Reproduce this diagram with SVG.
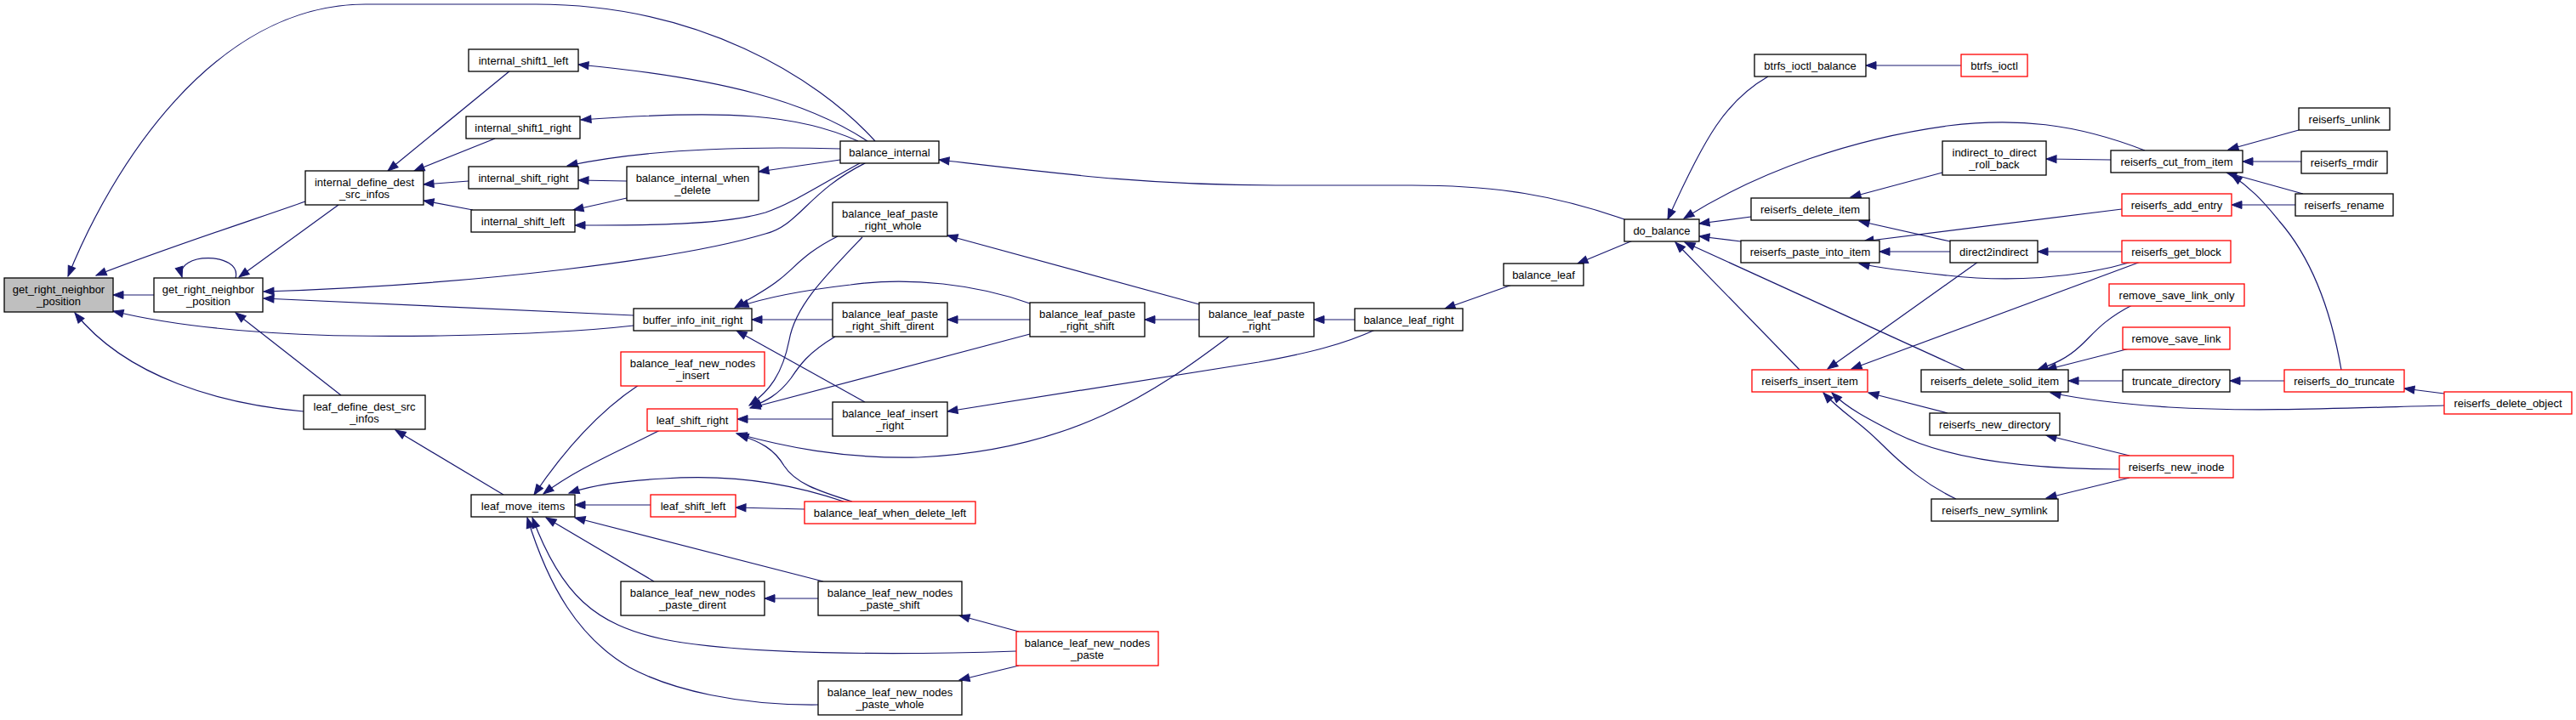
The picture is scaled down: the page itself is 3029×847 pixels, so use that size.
<svg xmlns="http://www.w3.org/2000/svg" width="3029" height="847" viewBox="0 0 3029 847">
<style>
.n rect{fill:#fff;stroke:#000;stroke-width:1.3}
.r rect{stroke:#f00}
.m rect{fill:#bfbfbf}
text{font-family:"Liberation Sans",Arial,sans-serif;font-size:13px;text-anchor:middle;fill:#000}
#edges path{fill:none;stroke:#191970;stroke-width:1.2;marker-end:url(#a)}
</style>
<defs>
<marker id="a" markerWidth="12" markerHeight="9" refX="12" refY="4.5" orient="auto" markerUnits="userSpaceOnUse" overflow="visible"><path d="M0,0 L12,4.5 L0,9 z" fill="#191970" stroke="#191970" stroke-width="1"/></marker>
</defs>
<rect width="3029" height="847" fill="#fff"/>
<g id="edges">
<path d="M359,237 C300,258 200,290 113,324"/>
<path d="M181,347 L133,347"/>
<path d="M745,383 C640,395 420,400 300,390 C230,385 170,375 133,366"/>
<path d="M1029,166 C960,90 820,5 630,5 L430,5 C250,5 130,200 80,325"/>
<path d="M357,484 C260,475 150,445 88,368"/>
<path d="M277,327 C285,296 205,296 214,326"/>
<path d="M398,241 L281,326"/>
<path d="M1019,191 C950,225 940,265 900,275 C800,305 560,335 310,343"/>
<path d="M745,371 L310,351"/>
<path d="M401,465 L277,368"/>
<path d="M600,83 L456,201"/>
<path d="M582,163 L487,201"/>
<path d="M551,213 L498,217"/>
<path d="M556,247 L498,236"/>
<path d="M1020,166 C950,120 850,92 680,76"/>
<path d="M1009,166 C940,135 860,128 683,141"/>
<path d="M988,175 C880,172 760,175 667,195"/>
<path d="M737,213 L680,212"/>
<path d="M737,233 L674,247"/>
<path d="M1011,192 C960,220 930,240 900,250 C850,265 760,265 676,265"/>
<path d="M988,188 L892,202"/>
<path d="M1910,258 C1830,230 1760,218 1660,218 L1500,218 C1350,218 1250,205 1104,188"/>
<path d="M985,278 C945,298 935,315 915,330 C900,342 880,352 864,362"/>
<path d="M1211,357 C1150,335 1070,325 1000,335 C940,342 900,350 868,361"/>
<path d="M979,376 L884,376"/>
<path d="M1017,473 L866,389"/>
<path d="M1014,279 C970,325 935,360 928,400 C920,440 905,460 881,477"/>
<path d="M982,396 C950,415 940,430 930,445 C915,465 900,472 883,479"/>
<path d="M1211,393 L882,480"/>
<path d="M979,493 L867,493"/>
<path d="M1445,396 C1360,460 1260,530 1080,538 C990,540 920,525 866,510"/>
<path d="M1002,590 C960,577 935,568 922,548 C910,528 895,520 868,511"/>
<path d="M1617,388 C1580,405 1540,415 1480,426 L1114,484"/>
<path d="M1410,358 L1114,277"/>
<path d="M1211,376 L1114,376"/>
<path d="M1410,376 L1346,376"/>
<path d="M1593,376 L1545,376"/>
<path d="M1778,335 L1699,363"/>
<path d="M1920,283 L1855,310"/>
<path d="M592,582 L465,506"/>
<path d="M751,453 C710,480 670,520 628,582"/>
<path d="M776,506 C730,530 680,550 639,581"/>
<path d="M992,590 C920,565 850,558 780,563 C730,566 700,570 669,580"/>
<path d="M765,594 L676,594"/>
<path d="M968,684 L676,609"/>
<path d="M769,684 L642,609"/>
<path d="M1195,766 C1050,771 870,770 780,752 C700,735 660,700 626,609"/>
<path d="M962,829 C870,830 790,812 740,785 C680,750 645,690 620,609"/>
<path d="M962,704 L899,704"/>
<path d="M1198,743 L1128,724"/>
<path d="M1198,783 L1128,800"/>
<path d="M946,599 L865,597"/>
<path d="M2079,90 C2030,118 2005,160 1961,258"/>
<path d="M2522,177 C2440,145 2370,138 2290,148 C2180,163 2070,200 1980,257"/>
<path d="M2059,255 L1998,263"/>
<path d="M2047,284 L1998,278"/>
<path d="M2116,435 L1970,285"/>
<path d="M2310,435 L1981,285"/>
<path d="M2306,77 L2194,77"/>
<path d="M2284,203 L2176,232"/>
<path d="M2293,284 L2186,260"/>
<path d="M2495,246 L2191,284"/>
<path d="M2293,296 L2210,296"/>
<path d="M2507,308 C2440,328 2360,332 2290,324 C2250,320 2215,316 2186,310"/>
<path d="M2495,296 L2396,296"/>
<path d="M2326,308 L2149,434"/>
<path d="M2517,308 L2177,434"/>
<path d="M2290,486 L2197,462"/>
<path d="M2492,552 C2380,552 2290,540 2230,510 C2195,492 2172,480 2154,462"/>
<path d="M2300,587 C2265,570 2240,550 2210,520 C2185,495 2165,485 2144,462"/>
<path d="M2507,359 C2470,378 2460,395 2445,408 C2430,422 2415,428 2396,435"/>
<path d="M2504,410 L2406,435"/>
<path d="M2496,448 L2432,448"/>
<path d="M2874,477 C2760,480 2650,485 2550,479 C2490,475 2450,470 2411,462"/>
<path d="M2686,448 L2622,448"/>
<path d="M2874,463 L2827,457"/>
<path d="M2753,435 C2740,360 2715,300 2680,260 C2660,235 2645,220 2624,206"/>
<path d="M2504,536 L2406,512"/>
<path d="M2504,562 L2406,586"/>
<path d="M2703,153 L2620,176"/>
<path d="M2706,190 L2637,190"/>
<path d="M2708,228 L2618,203"/>
<path d="M2482,188 L2406,187"/>
<path d="M2699,241 L2624,241"/>
</g>
<g id="n_main" class="n m"><rect x="5" y="327" width="128" height="40"/><text x="69" y="344.5">get_right_neighbor</text><text x="69" y="358.5">_position</text></g>
<g id="n_grnp2" class="n"><rect x="181" y="327" width="128" height="40"/><text x="245" y="344.5">get_right_neighbor</text><text x="245" y="358.5">_position</text></g>
<g id="n_idds" class="n"><rect x="359" y="201" width="139" height="40"/><text x="428.5" y="218.5">internal_define_dest</text><text x="428.5" y="232.5">_src_infos</text></g>
<g id="n_is1l" class="n"><rect x="551" y="58" width="129" height="26"/><text x="615.5" y="75.5">internal_shift1_left</text></g>
<g id="n_is1r" class="n"><rect x="548" y="137" width="134" height="26"/><text x="615" y="154.5">internal_shift1_right</text></g>
<g id="n_isr" class="n"><rect x="551" y="196" width="129" height="26"/><text x="615.5" y="213.5">internal_shift_right</text></g>
<g id="n_isl" class="n"><rect x="554" y="247" width="122" height="26"/><text x="615" y="264.5">internal_shift_left</text></g>
<g id="n_ldds" class="n"><rect x="357" y="465" width="143" height="40"/><text x="428.5" y="482.5">leaf_define_dest_src</text><text x="428.5" y="496.5">_infos</text></g>
<g id="n_lmi" class="n"><rect x="554" y="582" width="122" height="26"/><text x="615" y="599.5">leaf_move_items</text></g>
<g id="n_biwd" class="n"><rect x="737" y="196" width="155" height="40"/><text x="814.5" y="213.5">balance_internal_when</text><text x="814.5" y="227.5">_delete</text></g>
<g id="n_biir" class="n"><rect x="745" y="363" width="139" height="26"/><text x="814.5" y="380.5">buffer_info_init_right</text></g>
<g id="n_blnni" class="n r"><rect x="730" y="414" width="169" height="40"/><text x="814.5" y="431.5">balance_leaf_new_nodes</text><text x="814.5" y="445.5">_insert</text></g>
<g id="n_lsr" class="n r"><rect x="761" y="481" width="106" height="26"/><text x="814" y="498.5">leaf_shift_right</text></g>
<g id="n_lsl" class="n r"><rect x="765" y="582" width="100" height="26"/><text x="815" y="599.5">leaf_shift_left</text></g>
<g id="n_blnnpd" class="n"><rect x="730" y="684" width="169" height="40"/><text x="814.5" y="701.5">balance_leaf_new_nodes</text><text x="814.5" y="715.5">_paste_dirent</text></g>
<g id="n_bi" class="n"><rect x="988" y="166" width="116" height="26"/><text x="1046" y="183.5">balance_internal</text></g>
<g id="n_blprw" class="n"><rect x="979" y="238" width="135" height="40"/><text x="1046.5" y="255.5">balance_leaf_paste</text><text x="1046.5" y="269.5">_right_whole</text></g>
<g id="n_blprsd" class="n"><rect x="979" y="356" width="135" height="40"/><text x="1046.5" y="373.5">balance_leaf_paste</text><text x="1046.5" y="387.5">_right_shift_dirent</text></g>
<g id="n_blir" class="n"><rect x="979" y="473" width="135" height="40"/><text x="1046.5" y="490.5">balance_leaf_insert</text><text x="1046.5" y="504.5">_right</text></g>
<g id="n_blwdl" class="n r"><rect x="946" y="590" width="201" height="26"/><text x="1046.5" y="607.5">balance_leaf_when_delete_left</text></g>
<g id="n_blnnps" class="n"><rect x="962" y="684" width="169" height="40"/><text x="1046.5" y="701.5">balance_leaf_new_nodes</text><text x="1046.5" y="715.5">_paste_shift</text></g>
<g id="n_blnnpw" class="n"><rect x="962" y="801" width="169" height="40"/><text x="1046.5" y="818.5">balance_leaf_new_nodes</text><text x="1046.5" y="832.5">_paste_whole</text></g>
<g id="n_blnnp" class="n r"><rect x="1195" y="743" width="167" height="40"/><text x="1278.5" y="760.5">balance_leaf_new_nodes</text><text x="1278.5" y="774.5">_paste</text></g>
<g id="n_blprs" class="n"><rect x="1211" y="356" width="135" height="40"/><text x="1278.5" y="373.5">balance_leaf_paste</text><text x="1278.5" y="387.5">_right_shift</text></g>
<g id="n_blpr" class="n"><rect x="1410" y="356" width="135" height="40"/><text x="1477.5" y="373.5">balance_leaf_paste</text><text x="1477.5" y="387.5">_right</text></g>
<g id="n_blr" class="n"><rect x="1593" y="363" width="127" height="26"/><text x="1656.5" y="380.5">balance_leaf_right</text></g>
<g id="n_bl" class="n"><rect x="1768" y="310" width="94" height="26"/><text x="1815" y="327.5">balance_leaf</text></g>
<g id="n_db" class="n"><rect x="1910" y="258" width="88" height="26"/><text x="1954" y="275.5">do_balance</text></g>
<g id="n_bib" class="n"><rect x="2063" y="64" width="131" height="26"/><text x="2128.5" y="81.5">btrfs_ioctl_balance</text></g>
<g id="n_rdi" class="n"><rect x="2059" y="233" width="139" height="26"/><text x="2128.5" y="250.5">reiserfs_delete_item</text></g>
<g id="n_rpii" class="n"><rect x="2047" y="283" width="163" height="26"/><text x="2128.5" y="300.5">reiserfs_paste_into_item</text></g>
<g id="n_rii" class="n r"><rect x="2060" y="435" width="136" height="26"/><text x="2128" y="452.5">reiserfs_insert_item</text></g>
<g id="n_bioctl" class="n r"><rect x="2306" y="64" width="78" height="26"/><text x="2345" y="81.5">btrfs_ioctl</text></g>
<g id="n_itdrb" class="n"><rect x="2284" y="166" width="122" height="40"/><text x="2345" y="183.5">indirect_to_direct</text><text x="2345" y="197.5">_roll_back</text></g>
<g id="n_d2i" class="n"><rect x="2293" y="283" width="103" height="26"/><text x="2344.5" y="300.5">direct2indirect</text></g>
<g id="n_rdsi" class="n"><rect x="2259" y="435" width="173" height="26"/><text x="2345.5" y="452.5">reiserfs_delete_solid_item</text></g>
<g id="n_rnd" class="n"><rect x="2269" y="486" width="153" height="26"/><text x="2345.5" y="503.5">reiserfs_new_directory</text></g>
<g id="n_rns" class="n"><rect x="2271" y="587" width="149" height="26"/><text x="2345.5" y="604.5">reiserfs_new_symlink</text></g>
<g id="n_rcfi" class="n"><rect x="2482" y="177" width="155" height="26"/><text x="2559.5" y="194.5">reiserfs_cut_from_item</text></g>
<g id="n_rae" class="n r"><rect x="2495" y="228" width="129" height="26"/><text x="2559.5" y="245.5">reiserfs_add_entry</text></g>
<g id="n_rgb" class="n r"><rect x="2495" y="283" width="128" height="26"/><text x="2559" y="300.5">reiserfs_get_block</text></g>
<g id="n_rslo" class="n r"><rect x="2480" y="334" width="159" height="26"/><text x="2559.5" y="351.5">remove_save_link_only</text></g>
<g id="n_rsl" class="n r"><rect x="2496" y="385" width="126" height="26"/><text x="2559" y="402.5">remove_save_link</text></g>
<g id="n_td" class="n"><rect x="2496" y="435" width="126" height="26"/><text x="2559" y="452.5">truncate_directory</text></g>
<g id="n_rni" class="n r"><rect x="2492" y="536" width="134" height="26"/><text x="2559" y="553.5">reiserfs_new_inode</text></g>
<g id="n_ru" class="n"><rect x="2703" y="127" width="107" height="26"/><text x="2756.5" y="144.5">reiserfs_unlink</text></g>
<g id="n_rrmdir" class="n"><rect x="2706" y="178" width="101" height="26"/><text x="2756.5" y="195.5">reiserfs_rmdir</text></g>
<g id="n_rr" class="n"><rect x="2699" y="228" width="115" height="26"/><text x="2756.5" y="245.5">reiserfs_rename</text></g>
<g id="n_rdt" class="n r"><rect x="2686" y="435" width="141" height="26"/><text x="2756.5" y="452.5">reiserfs_do_truncate</text></g>
<g id="n_rdo" class="n r"><rect x="2874" y="461" width="150" height="26"/><text x="2949" y="478.5">reiserfs_delete_object</text></g>
</svg>
